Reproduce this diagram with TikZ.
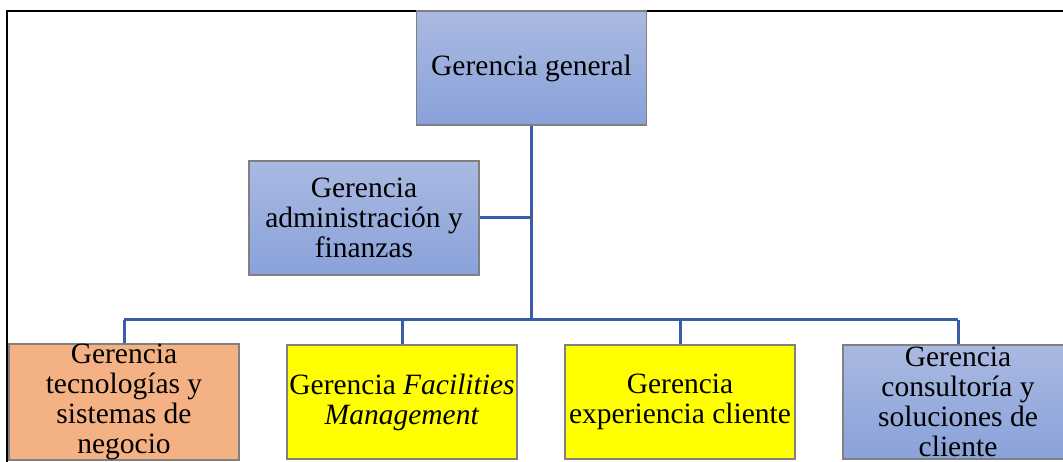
\documentclass[tikz,border=0pt]{standalone}
\usepackage{fontspec}
\setmainfont{Liberation Serif}[ItalicFont={Liberation Serif Italic},BoldFont={Liberation Serif Bold}]
\definecolor{bluetop}{RGB}{170,185,225}
\definecolor{bluebot}{RGB}{137,162,218}
\definecolor{orangebox}{RGB}{244,177,131}
\definecolor{yellowbox}{RGB}{255,255,0}
\definecolor{linkblue}{RGB}{58,93,168}
\definecolor{boxedge}{RGB}{128,128,128}
\tikzset{
  orgbox/.style={rectangle, draw=boxedge, line width=1.2pt, minimum width=230pt, minimum height=114pt,
    inner sep=0pt, align=center,
    font=\fontsize{29.5}{30}\selectfont},
  bluebox/.style={orgbox, top color=bluetop, bottom color=bluebot},
  orangefill/.style={orgbox, fill=orangebox},
  yellowfill/.style={orgbox, fill=yellowbox},
  link/.style={draw=linkblue, line width=3pt},
  frameline/.style={draw=black, line width=1.6pt}
}
\begin{document}
\begin{tikzpicture}[x=1pt,y=-1pt]
\useasboundingbox (0,0) rectangle (1063,462);
\begin{scope}
\clip (0,0) rectangle (1063,462);
% frame
\coordinate (ftl) at (7,11);
\coordinate (ftr) at (1063,11);
\coordinate (fbl) at (7,462);
\draw[frameline] (ftr) -- (ftl) -- (fbl);
% nodes
\node[bluebox] (gg) at (531.5,68) {\raisebox{-3pt}{Gerencia general}};
\node[bluebox] (adm) at (364,218) {Gerencia\\administración y\\finanzas};
\node[orangefill] (b1) at (124,402) {Gerencia\\tecnologías y\\sistemas de\\negocio};
\node[yellowfill] (b2) at (402,402) {Gerencia \textit{Facilities}\\\textit{Management}};
\node[yellowfill] (b3) at (680,402) {Gerencia\\experiencia cliente};
\node[bluebox] (b4) at (958,402) {Gerencia\\consultoría y\\soluciones de\\cliente};
% connectors
\coordinate (bus) at (531.5,320);
\draw[link] (gg.south) -- (gg.south |- bus);
\draw[link] (adm.east) -- (adm.east -| gg.south);
\draw[link] (b1.north |- bus) -- (b4.north |- bus);
\draw[link] (b1.north |- bus) -- (b1.north);
\draw[link] (b2.north |- bus) -- (b2.north);
\draw[link] (b3.north |- bus) -- (b3.north);
\draw[link] (b4.north |- bus) -- (b4.north);
\end{scope}
\end{tikzpicture}
\end{document}
